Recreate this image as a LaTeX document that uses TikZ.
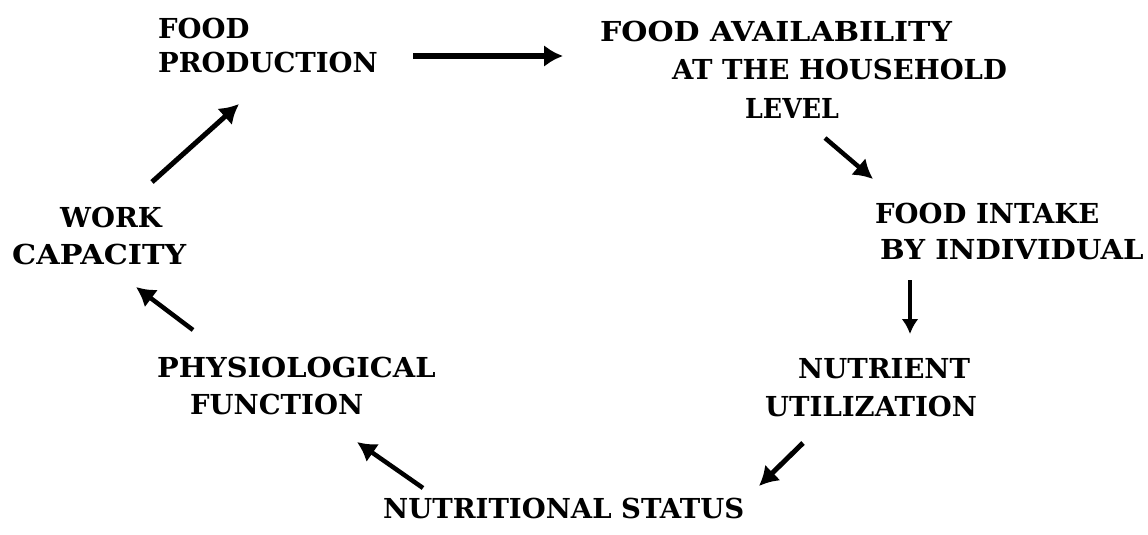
\documentclass[tikz,border=0pt]{standalone}
\usepackage{fontspec}
\setmainfont{DejaVu Serif}
\usetikzlibrary{arrows.meta}
\newcommand{\hsq}[2]{\scalebox{#1}[1]{#2}}
\begin{document}
\begin{tikzpicture}[x=1pt,y=-1pt,
  lbl/.style={anchor=base west,inner sep=0pt,font=\fontsize{27.5}{30}\selectfont\bfseries},
  arr/.style={-{Latex[length=19pt,width=22pt]},line width=#1},
  arr/.default=4.5pt]
\useasboundingbox (0,0) rectangle (1148,535);
% labels
\node[lbl] (prod1) at (158,38) {FOOD};
\node[lbl] (prod2) at (158,73) {PRODUCTION};
\node[lbl] (avail1) at (600,42) {\hsq{1.09}{FOOD AVAILABILITY}};
\node[lbl] (avail2) at (672,80) {\hsq{1.0}{AT THE HOUSEHOLD}};
\node[lbl] (avail3) at (745,118) {\hsq{0.92}{LEVEL}};
\node[lbl] (intake1) at (875,223) {FOOD INTAKE};
\node[lbl] (intake2) at (880,259) {\hsq{1.06}{BY INDIVIDUAL}};
\node[lbl] (util1) at (798,378) {NUTRIENT};
\node[lbl] (util2) at (765,416) {UTILIZATION};
\node[lbl] (status) at (383,518) {NUTRITIONAL STATUS};
\node[lbl] (phys1) at (157,377) {\hsq{1.05}{PHYSIOLOGICAL}};
\node[lbl] (phys2) at (190,414) {FUNCTION};
\node[lbl] (work1) at (60,227) {WORK};
\node[lbl] (work2) at (12,264) {\hsq{1.1}{CAPACITY}};
% arrow end points
\coordinate (a1s) at (413,56);  \coordinate (a1e) at (563,56);
\coordinate (a2s) at (825,138); \coordinate (a2e) at (873,179);
\coordinate (a3s) at (910,280); \coordinate (a3e) at (910,334);
\coordinate (a4s) at (803,443); \coordinate (a4e) at (759,486);
\coordinate (a5s) at (423,488); \coordinate (a5e) at (357,442);
\coordinate (a6s) at (193,330); \coordinate (a6e) at (136,287);
\coordinate (a7s) at (152,182); \coordinate (a7e) at (239,104);
% arrows
\draw[arr=5.5pt] (a1s) -- (a1e);
\draw[arr=4.5pt] (a2s) -- (a2e);
\draw[-{Latex[length=15pt,width=17pt]},line width=3.2pt] (a3s) -- (a3e);
\draw[arr=5pt] (a4s) -- (a4e);
\draw[arr=4.5pt] (a5s) -- (a5e);
\draw[arr=4.5pt] (a6s) -- (a6e);
\draw[arr=5pt] (a7s) -- (a7e);
\end{tikzpicture}
\end{document}
